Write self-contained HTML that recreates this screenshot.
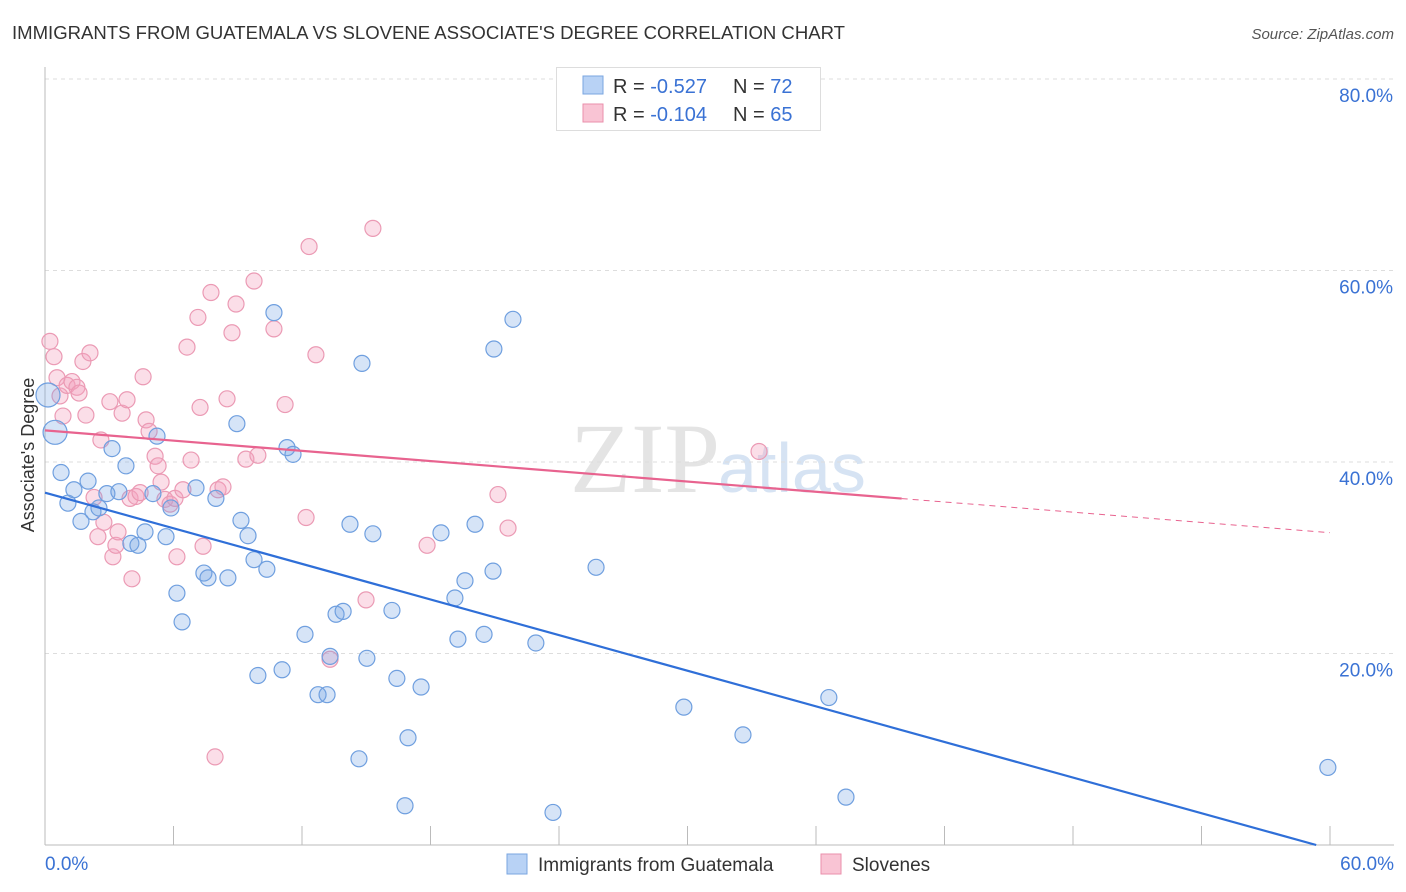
<!DOCTYPE html>
<html><head><meta charset="utf-8"><style>
body{margin:0;background:#fff;font-family:"Liberation Sans",sans-serif;}
svg{display:block}
</style></head><body>
<svg id="c" width="1406" height="892">
<text x="12" y="39" font-size="18" fill="#333" textLength="833" lengthAdjust="spacingAndGlyphs">IMMIGRANTS FROM GUATEMALA VS SLOVENE ASSOCIATE'S DEGREE CORRELATION CHART</text>
<text x="1394" y="39" font-size="15" fill="#555" font-style="italic" text-anchor="end">Source: ZipAtlas.com</text>
<text x="720" y="492" font-size="100" fill="#e4e4e4" text-anchor="end" font-family="Liberation Serif">ZIP</text>
<text x="718" y="492" font-size="70" fill="#d6e3f3">atlas</text>
<g id="grid"></g><g id="axes"></g><g id="pts"></g><g id="lines"></g>
<text x="34" y="455" font-size="18" fill="#333" text-anchor="middle" transform="rotate(-90 34 455)">Associate's Degree</text>
<g>
<rect x="556.5" y="67.5" width="264" height="63" fill="#fff" stroke="#ddd"/>
<rect x="583" y="76" width="20" height="18" fill="#b8d2f5" stroke="#7aa6e0"/>
<rect x="583" y="104" width="20" height="18" fill="#f9c4d4" stroke="#ea8fab"/>
<text x="613" y="93" font-size="20" fill="#333">R = <tspan fill="#3a72d4">-0.527</tspan></text>
<text x="733" y="93" font-size="20" fill="#333">N = <tspan fill="#3a72d4">72</tspan></text>
<text x="613" y="121" font-size="20" fill="#333">R = <tspan fill="#3a72d4">-0.104</tspan></text>
<text x="733" y="121" font-size="20" fill="#333">N = <tspan fill="#3a72d4">65</tspan></text>
</g>
<g>
<rect x="507" y="854" width="20" height="20" fill="#b8d2f5" stroke="#7aa6e0"/>
<text x="538" y="871" font-size="19" fill="#333">Immigrants from Guatemala</text>
<rect x="821" y="854" width="20" height="20" fill="#f9c4d4" stroke="#ea8fab"/>
<text x="852" y="871" font-size="19" fill="#333">Slovenes</text>
</g>
</svg>
<script>
const yTicks=[20,40,60,80];
const yTickLabels=["20.0%","40.0%","60.0%","80.0%"];
const xEndLabels=["0.0%","60.0%"];
const blueX=[0.14,0.47,0.75,1.07,1.35,1.68,2.01,2.24,2.52,2.89,3.13,3.45,3.78,4.01,4.34,4.67,5.04,5.23,5.65,5.88,6.16,6.40,7.05,7.42,7.61,7.98,8.54,8.96,9.15,9.48,9.76,9.94,10.36,10.69,11.07,11.30,11.58,12.14,12.75,13.17,13.31,13.59,13.92,14.24,14.66,14.80,15.03,15.31,16.20,16.43,16.81,16.95,17.56,18.49,19.14,19.28,19.61,20.08,20.50,20.92,20.96,21.85,22.92,23.72,25.73,29.83,32.59,36.60,37.40,59.90];
const blueY=[47.0,43.1,38.9,35.7,37.1,33.8,38.0,34.8,35.2,36.7,41.4,36.9,39.6,31.5,31.3,32.7,36.7,42.7,32.2,35.2,26.3,23.3,37.3,28.4,27.9,36.2,27.9,44.0,33.9,32.3,29.8,17.7,28.8,55.6,18.3,41.5,40.8,22.0,15.7,15.7,19.7,24.1,24.4,33.5,9.0,50.3,19.5,32.5,24.5,17.4,4.1,11.2,16.5,32.6,25.8,21.5,27.6,33.5,22.0,28.6,51.8,54.9,21.1,3.4,29.0,14.4,11.5,15.4,5.0,8.1];
const pinkX=[0.23,0.42,0.56,0.70,0.84,1.03,1.26,1.49,1.59,1.77,1.91,2.10,2.29,2.47,2.61,2.75,3.03,3.17,3.31,3.41,3.60,3.83,3.97,4.06,4.25,4.44,4.58,4.72,4.86,5.14,5.28,5.42,5.60,5.84,6.07,6.16,6.44,6.63,6.82,7.14,7.24,7.38,7.75,7.94,8.08,8.31,8.50,8.73,8.92,9.38,9.76,9.94,10.69,11.21,12.19,12.33,12.65,13.31,14.99,15.31,17.84,21.15,21.62,33.34];
const pinkY=[52.6,51.0,48.8,46.9,44.8,48.0,48.4,47.8,47.2,50.5,44.9,51.4,36.3,32.2,42.3,33.7,46.3,30.1,31.3,32.7,45.1,46.5,36.2,27.8,36.4,36.8,48.9,44.4,43.2,40.6,39.6,37.9,36.1,35.6,36.2,30.1,37.1,52.0,40.2,55.1,45.7,31.2,57.7,9.2,37.1,37.4,46.6,53.5,56.5,40.3,58.9,40.7,53.9,46.0,34.2,62.5,51.2,19.4,25.6,64.4,31.3,36.6,33.1,41.1];
const blueLine=[36.8,-0.62];   // intercept, slope
const pinkLine=[43.3,-0.178];
const pinkSolidEnd=40;
const X=v=>45+v*(1285/60), Y=v=>845-v*(191.5/20);
const NS="http://www.w3.org/2000/svg";
function mk(p,t,a){const e=document.createElementNS(NS,t);for(const k in a)e.setAttribute(k,a[k]);p.appendChild(e);return e;}
const grid=document.getElementById('grid'),axes=document.getElementById('axes'),pts=document.getElementById('pts'),lines=document.getElementById('lines');
yTicks.forEach((t,i)=>{
 const l=mk(grid,'line',{x1:45,x2:1394,y1:Y(t),y2:Y(t),stroke:'#ddd','stroke-dasharray':'4,4'});
 
 
 const tx=mk(axes,'text',{x:1393,y:Y(t)+23,'font-size':19,fill:'#3a72d4','text-anchor':'end'});
 tx.textContent=yTickLabels[i];
 
 
});
const ya=mk(axes,'line',{x1:45,x2:45,y1:67,y2:845,stroke:'#bbb'});


const xa=mk(axes,'line',{x1:45,x2:1394,y1:845,y2:845,stroke:'#bbb'});


for(let i=0;i<=10;i++){const tk=mk(axes,'line',{x1:X(i*6),x2:X(i*6),y1:826,y2:845,stroke:'#bbb'});
 
 }
[[0,'start',45],[60,'end',1394]].forEach((d,i)=>{const t=mk(axes,'text',{x:d[2],y:870,'font-size':19,fill:'#3a72d4','text-anchor':d[1]});t.textContent=xEndLabels[i];
 
 });
function dots(xs,ys,fill,stroke,name){xs.forEach((x,i)=>{const big=(name==='blue-point'&&i<2);
 const c=mk(pts,'circle',{cx:X(x),cy:Y(ys[i]),r:big?12:8,fill:fill,stroke:stroke,'stroke-width':1.2});
 
 });}
dots(pinkX,pinkY,'rgba(244,160,188,0.35)','#eb9ab4','pink-point');
dots(blueX,blueY,'rgba(120,165,230,0.3)','#6f9fdf','blue-point');
const bEnd=-blueLine[0]/blueLine[1];
const bl=mk(lines,'line',{x1:X(0),y1:Y(blueLine[0]),x2:X(bEnd),y2:Y(0),stroke:'#2f6fd8','stroke-width':2.2});


const pl=mk(lines,'line',{x1:X(0),y1:Y(pinkLine[0]),x2:X(pinkSolidEnd),y2:Y(pinkLine[0]+pinkLine[1]*pinkSolidEnd),stroke:'#e8638f','stroke-width':2.2});


const pd=mk(lines,'line',{x1:X(pinkSolidEnd),y1:Y(pinkLine[0]+pinkLine[1]*pinkSolidEnd),x2:X(60),y2:Y(pinkLine[0]+pinkLine[1]*60),stroke:'#e8638f','stroke-width':1,'stroke-dasharray':'6,5'});


</script>
</body></html>
